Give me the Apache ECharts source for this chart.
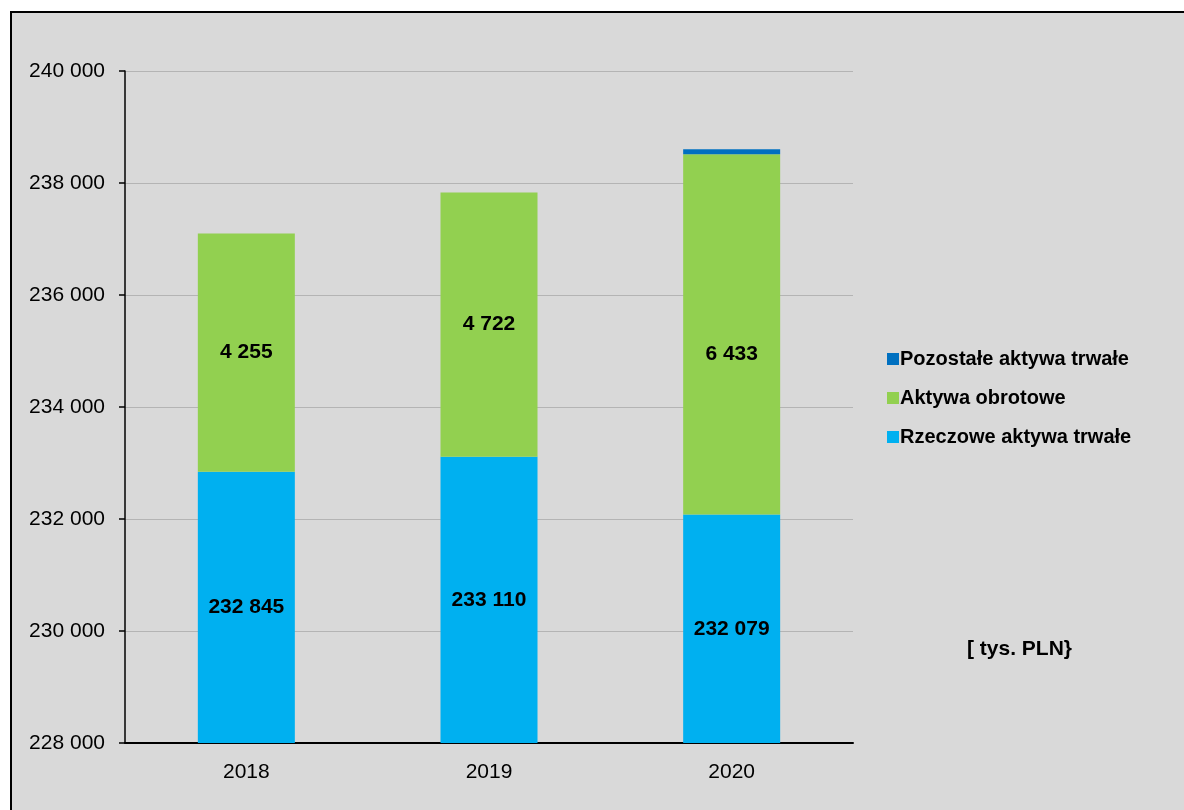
<!DOCTYPE html>
<html>
<head>
<meta charset="utf-8">
<script src="https://cdn.jsdelivr.net/npm/echarts@6/dist/echarts.min.js"></script>
<style>
  html, body { margin: 0; padding: 0; width: 1184px; height: 810px; overflow: hidden; background: #ffffff; }
  #frame { position: absolute; left: 10px; top: 11px; width: 1200px; height: 900px; background: #d9d9d9; border: 2px solid #000; box-sizing: border-box; }
  #chart { position: absolute; left: 0; top: 0; width: 1184px; height: 810px; }
</style>
</head>
<body>
<div id="frame"></div>
<div id="chart"></div>
<script>
// Years on the category axis
const years = ['2018', '2019', '2020'];
// Stacked asset groups, thousands of PLN
const rzeczoweAktywaTrwale = [232845, 233110, 232079];
const aktywaObrotowe = [4255, 4722, 6433];
const pozostaleAktywaTrwale = [0, 0, 90];
// Value axis range
const yMin = 228000;
const yMax = 240000;
const yStep = 2000;

const fmt = v => String(Math.round(v)).replace(/\B(?=(\d{3})+(?!\d))/g, ' ');
const FONT = 'Liberation Sans, Arial, sans-serif';

const chart = echarts.init(document.getElementById('chart'), null, { renderer: 'canvas' });

const labelStyle = {
  show: true,
  position: 'inside',
  color: '#000',
  fontFamily: FONT,
  fontWeight: 'bold',
  fontSize: 21,
  formatter: p => fmt(p.value)
};

chart.setOption({
  backgroundColor: 'transparent',
  animation: false,
  grid: { left: 125, right: 331, top: 71, bottom: 67 },
  legend: {
    orient: 'vertical',
    left: 882,
    top: 343,
    itemWidth: 12,
    itemHeight: 12,
    itemGap: 17,
    icon: 'rect',
    data: ['Pozostałe aktywa trwałe', 'Aktywa obrotowe', 'Rzeczowe aktywa trwałe'],
    textStyle: { fontFamily: FONT, fontWeight: 'bold', fontSize: 20, color: '#000', lineHeight: 22, padding: [0, 0, 0, -4] }
  },
  graphic: [{
    type: 'text',
    left: 967,
    top: 639,
    style: { text: '[ tys. PLN}', font: 'bold 21px ' + FONT, fill: '#000' }
  }],
  xAxis: {
    type: 'category',
    data: years,
    axisLine: { lineStyle: { color: '#000', width: 2 } },
    axisTick: { show: false },
    axisLabel: { color: '#000', fontFamily: FONT, fontSize: 21, margin: 19 }
  },
  yAxis: {
    type: 'value',
    min: yMin,
    max: yMax,
    interval: yStep,
    axisLine: { show: true, lineStyle: { color: '#000', width: 1.5 } },
    axisTick: { show: true, length: 6, lineStyle: { color: '#000', width: 1.5 } },
    splitLine: { lineStyle: { color: '#b4b4b4', width: 1 } },
    axisLabel: { color: '#000', fontFamily: FONT, fontSize: 21, margin: 20, formatter: v => fmt(v) }
  },
  series: [
    {
      name: 'Rzeczowe aktywa trwałe',
      type: 'bar',
      stack: 'total',
      barWidth: 97,
      itemStyle: { color: '#00b0f0' },
      label: labelStyle,
      data: rzeczoweAktywaTrwale
    },
    {
      name: 'Aktywa obrotowe',
      type: 'bar',
      stack: 'total',
      barWidth: 97,
      itemStyle: { color: '#92d050' },
      label: labelStyle,
      data: aktywaObrotowe.map((v, i) => i === 2 ? { value: v, label: { offset: [0, 20] } } : v)
    },
    {
      name: 'Pozostałe aktywa trwałe',
      type: 'bar',
      stack: 'total',
      barWidth: 97,
      itemStyle: { color: '#0070c0' },
      label: { show: false },
      data: pozostaleAktywaTrwale
    }
  ]
});
</script>
</body>
</html>
